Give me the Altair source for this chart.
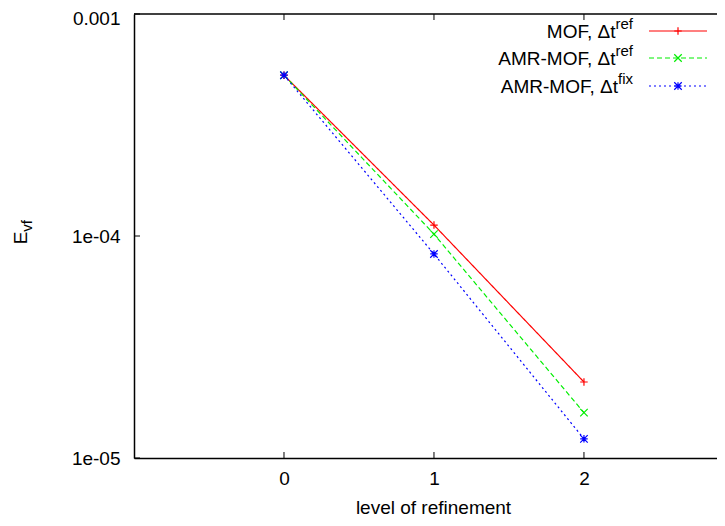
import math
import altair as alt
import pandas as pd

# ---------------- data ----------------
levels = [0, 1, 2]
series_keys = ["mof_ref", "amr_ref", "amr_fix"]
legend_main = ["MOF, Δt", "AMR-MOF, Δt", "AMR-MOF, Δt"]
legend_sup = ["ref", "ref", "fix"]
mof_ref = [5.3e-4, 1.12e-4, 2.2e-5]
amr_mof_ref = [5.3e-4, 1.02e-4, 1.6e-5]
amr_mof_fix = [5.3e-4, 8.3e-5, 1.22e-5]
x_ticks = [0, 1, 2]
y_ticks = [1e-5, 1e-4, 1e-3]
y_tick_labels = ["1e-05", "1e-04", "0.001"]
x_title = "level of refinement"
y_title_main = "E"
y_title_sub = "vf"

# ---------------- styles / layout ----------------
colors = ["#ff0000", "#00ee00", "#0000ff"]
dashes = [[1, 0], [5, 3], [2, 3]]
PLUS = "M-1,0L1,0M0,-1L0,1"
CROSS = "M-1,-1L1,1M-1,1L1,-1"
STAR = PLUS + CROSS
shapes = [PLUS, CROSS, STAR]

W, H = 583, 444
FONT = "Liberation Sans"
FS = 19
SUP_FS = 15
TICK = 6
X_DOMAIN = [-1, 2.887]
Y_DOMAIN = [1e-5, 1e-3]

rows = []
for key, vals in zip(series_keys, [mof_ref, amr_mof_ref, amr_mof_fix]):
    for lv, v in zip(levels, vals):
        rows.append({"series": key, "level": lv, "value": v})
df = pd.DataFrame(rows)

xscale = alt.Scale(domain=X_DOMAIN, nice=False, zero=False)
yscale = alt.Scale(type="log", domain=Y_DOMAIN, nice=False)

label_expr = " : ".join(
    f"abs(log(datum.value)/log(10) - ({math.log10(t)})) < 0.01 ? '{l}'"
    for t, l in zip(y_ticks, y_tick_labels)
) + " : ''"

xaxis = alt.Axis(values=x_ticks, title=x_title, tickSize=0, ticks=False,
                 labelPadding=11, titlePadding=10, format="d",
                 titleX=299, titleAlign="center", titleAnchor="start")
yaxis = alt.Axis(values=y_ticks, title=None, tickSize=0, ticks=False,
                 labelPadding=14, labelExpr=label_expr,
                 labelOffset=alt.condition("datum.value > 0.0005", alt.value(4.5), alt.value(0)))

color = alt.Color("series:N", scale=alt.Scale(domain=series_keys, range=colors), legend=None)
dash = alt.StrokeDash("series:N", scale=alt.Scale(domain=series_keys, range=dashes), legend=None)
shape = alt.Shape("series:N", scale=alt.Scale(domain=series_keys, range=shapes), legend=None)

X = alt.X("level:Q", scale=xscale, axis=xaxis)
Y = alt.Y("value:Q", scale=yscale, axis=yaxis)

base = alt.Chart(df)
lines = base.mark_line(strokeWidth=1.2).encode(x=X, y=Y, color=color, strokeDash=dash)
points = base.mark_point(filled=False, strokeWidth=1.2, size=56, opacity=1).encode(
    x=X, y=Y, color=color, shape=shape)

# inward ticks (gnuplot style) and top border
xt = pd.DataFrame({"level": x_ticks})
yt = pd.DataFrame({"value": y_ticks})
xt_bottom = alt.Chart(xt).mark_rule(color="black", strokeWidth=1).encode(
    x=X, y=alt.value(H - TICK), y2=alt.value(H))
xt_top = alt.Chart(xt).mark_rule(color="black", strokeWidth=1).encode(
    x=X, y=alt.value(0), y2=alt.value(TICK))
yt_left = alt.Chart(yt).mark_rule(color="black", strokeWidth=1).encode(
    y=Y, x=alt.value(0), x2=alt.value(TICK))
one = pd.DataFrame({"a": [0]})
top_border = alt.Chart(one).mark_rule(color="black", strokeWidth=1.5).encode(
    x=alt.value(0), x2=alt.value(W), y=alt.value(0))

# y title with subscript
ytitle_main = alt.Chart(one).mark_text(text=y_title_main, font=FONT, fontSize=FS, angle=270,
                                       align="center", baseline="middle", color="black").encode(
    x=alt.value(-113), y=alt.value(224))
ytitle_sub = alt.Chart(one).mark_text(text=y_title_sub, font=FONT, fontSize=SUP_FS, angle=270,
                                      align="center", baseline="middle", color="black").encode(
    x=alt.value(-107), y=alt.value(212))

# custom key
KEY_END = 499
KEY_LINE = (515, 573)
KEY_ROWS = [17, 44, 72]
SUP_W = {"ref": 17.5, "fix": 15}
legend_layers = []
for i, key in enumerate(series_keys):
    yy = KEY_ROWS[i]
    sw = SUP_W[legend_sup[i]]
    legend_layers.append(alt.Chart(one).mark_text(
        text=legend_main[i], font=FONT, fontSize=FS, align="right", baseline="middle",
        color="black").encode(x=alt.value(KEY_END - sw), y=alt.value(yy + 1)))
    legend_layers.append(alt.Chart(one).mark_text(
        text=legend_sup[i], font=FONT, fontSize=SUP_FS, align="left", baseline="middle",
        color="black").encode(x=alt.value(KEY_END - sw), y=alt.value(yy - 7)))
    legend_layers.append(alt.Chart(one).mark_rule(
        color=colors[i], strokeWidth=1.2, strokeDash=dashes[i]).encode(
        x=alt.value(KEY_LINE[0]), x2=alt.value(KEY_LINE[1]), y=alt.value(yy)))
    legend_layers.append(alt.Chart(one).mark_point(
        shape=shapes[i], filled=False, strokeWidth=1.2, size=56, color=colors[i], opacity=1).encode(
        x=alt.value((KEY_LINE[0] + KEY_LINE[1]) / 2), y=alt.value(yy)))

chart = alt.layer(
    lines, points, xt_bottom, xt_top, yt_left, top_border,
    ytitle_main, ytitle_sub, *legend_layers
).properties(
    width=W, height=H,
    autosize=alt.AutoSizeParams(type="none"),
    padding={"left": 126, "top": 6, "right": 0, "bottom": 60},
    background="white",
).configure_view(stroke=None).configure_axis(
    labelFont=FONT, titleFont=FONT, labelFontSize=FS, titleFontSize=FS,
    titleFontWeight="normal", labelColor="black", titleColor="black",
    domainColor="black", domainWidth=1.5, grid=False,
)

chart.save("out.html", embed_options={"renderer": "svg", "actions": False})
